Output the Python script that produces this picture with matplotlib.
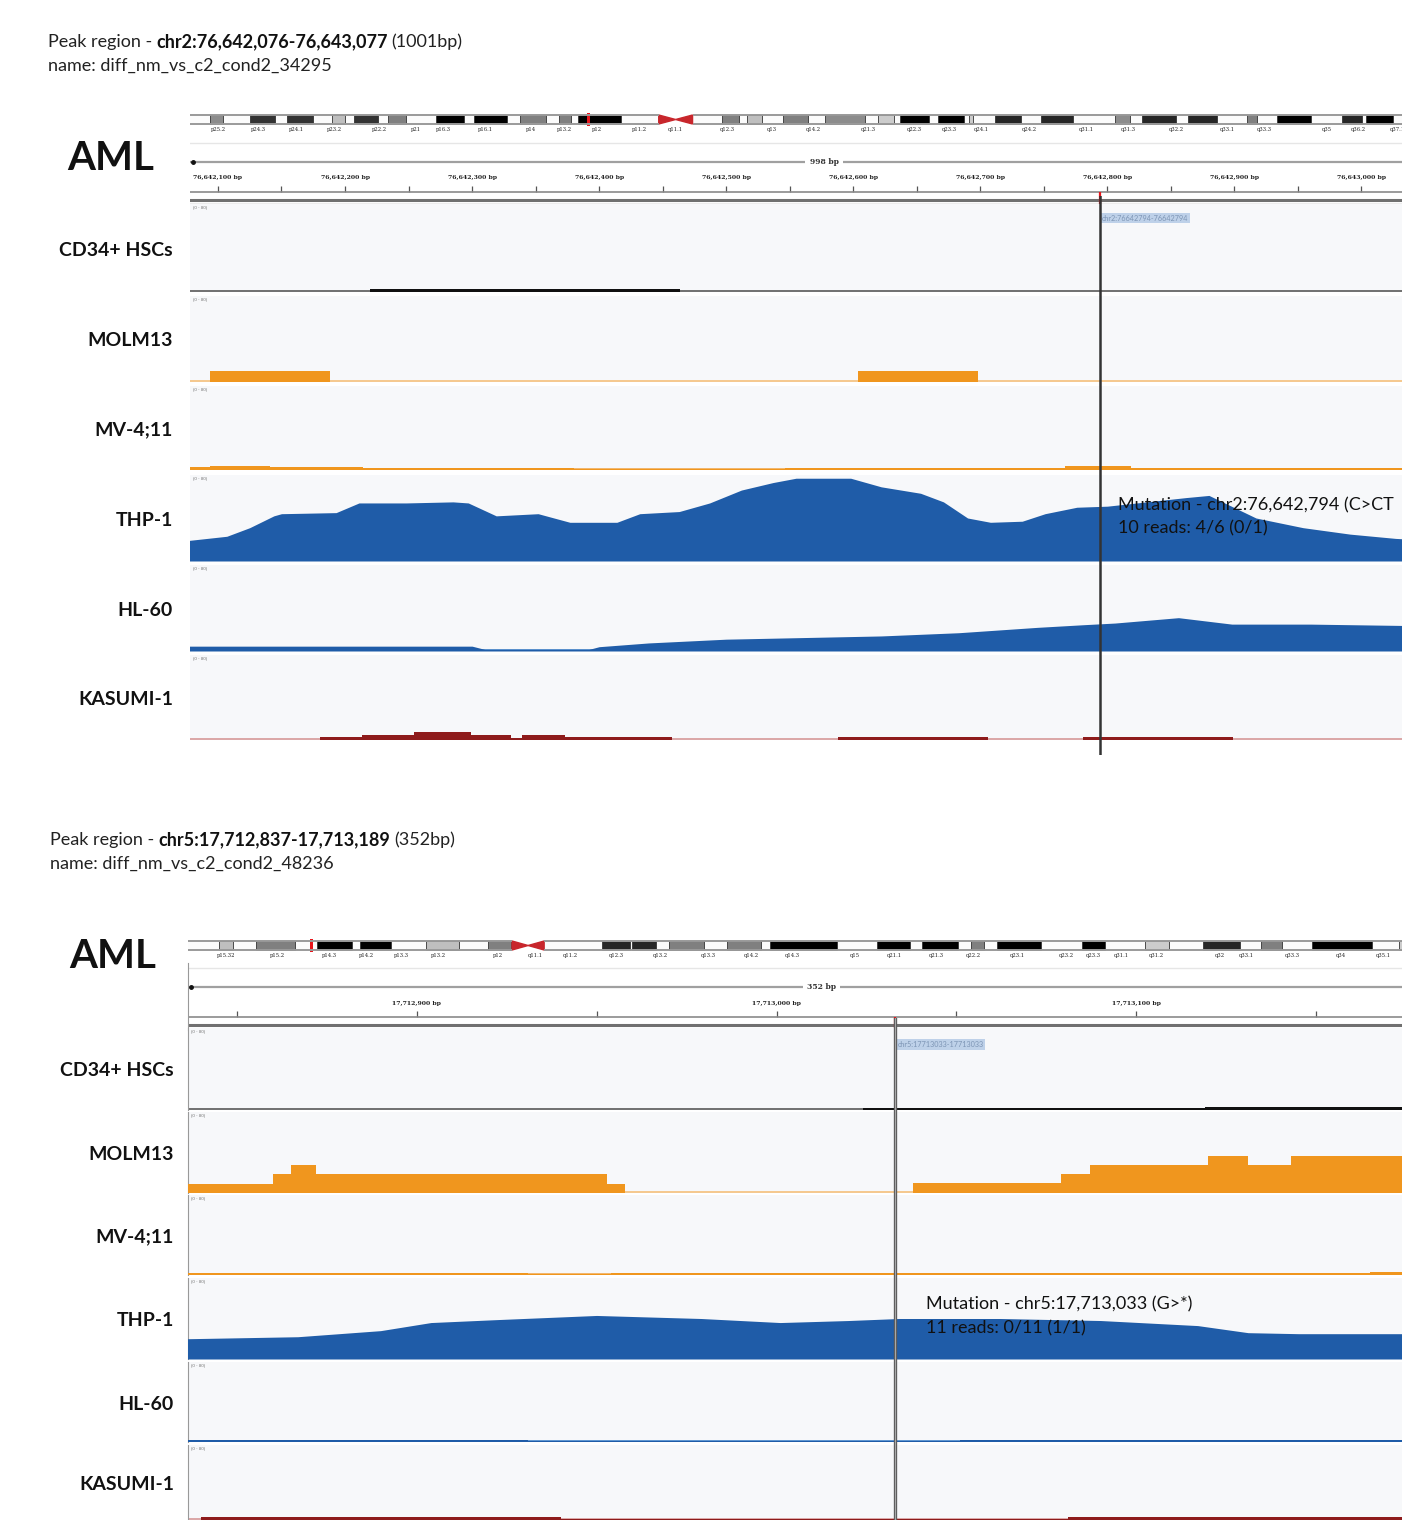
import matplotlib
matplotlib.use('Agg')
import matplotlib.pyplot as plt
from matplotlib.patches import Polygon

plt.rcParams['font.family'] = ['Lato', 'DejaVu Sans']

W, H = 1402, 1520

track_names = ['CD34+ HSCs', 'MOLM13', 'MV-4;11', 'THP-1', 'HL-60', 'KASUMI-1']

# ---------------- panel A : chr2 ----------------
region_a = (76642078, 76643076)
mut_a = 76642794
ruler_a_major = [76642100, 76642200, 76642300, 76642400, 76642500,
                 76642600, 76642700, 76642800, 76642900, 76643000]

chr2_len = 242.2
chr2_band_start = [3.8, 11.5, 18.6, 27.3, 31.5, 38.0, 47.2, 54.5, 63.5, 71.0, 74.5,
                   102.3, 107.1, 113.9, 122.1, 132.3, 136.5, 143.8, 149.8, 154.8,
                   163.6, 177.8, 183.0, 191.8, 203.1, 208.9, 221.4, 226.0]
chr2_band_end = [6.3, 16.3, 23.6, 29.8, 36.1, 41.5, 52.6, 60.9, 68.4, 73.3, 82.9,
                 105.6, 110.0, 118.7, 129.8, 135.4, 142.1, 148.8, 150.5, 159.7,
                 169.7, 180.7, 189.5, 197.4, 205.1, 215.4, 225.2, 231.2]
chr2_band_shade = [0.55, 0.2, 0.2, 0.75, 0.2, 0.5, 0.0, 0.0, 0.5, 0.5, 0.0,
                   0.5, 0.75, 0.5, 0.55, 0.8, 0.0, 0.0, 0.8, 0.15,
                   0.15, 0.55, 0.15, 0.15, 0.5, 0.0, 0.15, 0.0]
chr2_cen = (90.1, 96.6)
chr2_locus = 76.64
chr2_lab_pos = [5.4, 13.1, 20.5, 27.8, 36.5, 43.4, 48.8, 56.8, 65.5, 72.0, 78.3, 86.4,
                93.3, 103.3, 111.9, 119.8, 130.4, 139.2, 145.9, 152.1, 161.3, 172.2,
                180.3, 189.5, 199.3, 206.6, 218.5, 224.6, 232.1]
chr2_lab_txt = ['p25.2', 'p24.3', 'p24.1', 'p23.2', 'p22.2', 'p21', 'p16.3', 'p16.1',
                'p14', 'p13.2', 'p12', 'p11.2', 'q11.1', 'q12.3', 'q13', 'q14.2',
                'q21.3', 'q22.3', 'q23.3', 'q24.1', 'q24.2', 'q31.1', 'q31.3',
                'q32.2', 'q33.1', 'q33.3', 'q35', 'q36.2', 'q37.1']

cd34_a_start = [76642220]
cd34_a_end = [76642464]
cd34_a_val = [2.5]

molm13_a_start = [76642094, 76642604]
molm13_a_end = [76642188, 76642698]
molm13_a_val = [10, 10]

mv411_a_start = [76642076, 76642094, 76642141, 76642214, 76642380, 76642546, 76642767, 76642819]
mv411_a_end = [76642094, 76642141, 76642214, 76642380, 76642546, 76642767, 76642819, 76643077]
mv411_a_val = [3, 4, 3, 2, 1, 2, 3.5, 2]

thp1_a_pos = [76642076, 76642107, 76642125, 76642144, 76642150, 76642193, 76642211,
              76642248, 76642285, 76642297, 76642319, 76642352, 76642377, 76642414,
              76642432, 76642463, 76642487, 76642512, 76642537, 76642555, 76642598,
              76642622, 76642653, 76642671, 76642690, 76642708, 76642733, 76642751,
              76642776, 76642800, 76642831, 76642862, 76642880, 76642917, 76642954,
              76642991, 76643027, 76643077]
thp1_a_val = [19, 23, 31, 42, 44, 45, 54, 54, 55, 54, 42, 44, 36, 36, 44, 46, 54, 66,
              73, 77, 77, 69, 63, 55, 40, 36, 37, 44, 50, 51, 55, 59, 61, 40, 31, 25,
              21, 18]

hl60_a_pos = [76642076, 76642300, 76642310, 76642392, 76642400, 76642439, 76642500,
              76642622, 76642683, 76642745, 76642782, 76642806, 76642856, 76642898,
              76642960, 76643077]
hl60_a_val = [4.5, 4.5, 1.5, 1.5, 4, 7.5, 11, 14, 17, 22, 24.5, 26, 31, 25, 25, 23]

kas_a_start = [76642180, 76642213, 76642254, 76642299, 76642331, 76642339, 76642373,
               76642588, 76642781]
kas_a_end = [76642213, 76642254, 76642299, 76642331, 76642339, 76642373, 76642457,
             76642706, 76642899]
kas_a_val = [2.5, 5, 7.5, 5, 1.5, 5, 3, 3, 3]

# ---------------- panel B : chr5 ----------------
region_b = (17712836.5, 17713188.5)
mut_b = 17713033
ruler_b_major = [17712900, 17713000, 17713100]

chr5_len = 181.0
chr5_band_start = [4.5, 9.7, 18.5, 24.7, 34.1, 42.9, 59.3, 63.6, 68.9, 77.2, 83.3,
                   98.7, 105.1, 112.1, 115.8, 128.0, 137.0, 145.3, 153.7, 161.0, 173.4]
chr5_band_end = [6.4, 15.3, 23.5, 29.1, 38.8, 46.3, 63.3, 67.0, 73.9, 82.1, 92.9,
                 103.4, 110.3, 114.0, 122.2, 131.3, 140.5, 150.6, 156.7, 169.6, 176.0]
chr5_band_shade = [0.75, 0.5, 0.0, 0.0, 0.75, 0.5, 0.15, 0.15, 0.5, 0.5, 0.0,
                   0.0, 0.0, 0.5, 0.0, 0.0, 0.8, 0.15, 0.5, 0.0, 0.8]
chr5_cen = (46.4, 51.0)
chr5_locus = 17.71
chr5_lab_pos = [5.4, 12.8, 20.3, 25.5, 30.5, 35.9, 44.4, 49.8, 54.8, 61.4, 67.6, 74.5,
                80.6, 86.5, 95.5, 101.1, 107.2, 112.5, 118.8, 125.7, 129.6, 133.6,
                138.6, 147.8, 151.5, 158.1, 165.1, 171.1]
chr5_lab_txt = ['p15.32', 'p15.2', 'p14.3', 'p14.2', 'p13.3', 'p13.2', 'p12', 'q11.1',
                'q11.2', 'q12.3', 'q13.2', 'q13.3', 'q14.2', 'q14.3', 'q15', 'q21.1',
                'q21.3', 'q22.2', 'q23.1', 'q23.2', 'q23.3', 'q31.1', 'q31.2', 'q32',
                'q33.1', 'q33.3', 'q34', 'q35.1']

cd34_b_start = [17713024, 17713119]
cd34_b_end = [17713119, 17713190]
cd34_b_val = [1.5, 2.5]

molm13_b_start = [17712836, 17712860, 17712865, 17712872, 17712953, 17713038, 17713079,
                  17713087, 17713120, 17713131, 17713143]
molm13_b_end = [17712860, 17712865, 17712872, 17712953, 17712958, 17713079, 17713087,
                17713120, 17713131, 17713143, 17713190]
molm13_b_val = [9, 19, 28, 19, 9, 10, 19, 28, 37, 28, 37]

mv411_b_start = [17712836, 17712931, 17712954, 17713165]
mv411_b_end = [17712931, 17712954, 17713165, 17713190]
mv411_b_val = [2.5, 1.2, 2.5, 3.5]

thp1_b_pos = [17712836, 17712867, 17712890, 17712904, 17712923, 17712950, 17712979,
              17713001, 17713020, 17713034, 17713062, 17713090, 17713117, 17713131,
              17713145, 17713174, 17713190]
thp1_b_val = [20, 22, 28, 36, 39, 43, 40, 36, 38, 40, 40, 38, 33, 26, 25, 25, 25]

hl60_b_start = [17712836, 17712931, 17713051]
hl60_b_end = [17712931, 17713051, 17713190]
hl60_b_val = [2, 1, 2]

kas_b_start = [17712840, 17712940, 17713081]
kas_b_end = [17712940, 17713081, 17713190]
kas_b_val = [3, 1, 3]

BLUE = '#1f5ca8'
ORANGE = '#f0961e'
RED = '#8e1b1b'

fig = plt.figure(figsize=(W / 100, H / 100), dpi=100)
bg = fig.add_axes([0, 0, 1, 1])
bg.set_xlim(0, W)
bg.set_ylim(H, 0)
bg.set_axis_off()


def px_axes(x0, top, w, h):
    ax = fig.add_axes([x0 / W, 1 - (top + h) / H, w / W, h / H])
    ax.set_xticks([])
    ax.set_yticks([])
    for s in ax.spines.values():
        s.set_visible(False)
    ax.patch.set_alpha(0)
    return ax


def header(x, y, region_txt, size_txt, name_txt):
    fs = 13
    t = bg.text(x, y, 'Peak region -', fontsize=fs, color='#222', va='center')
    t2 = bg.annotate(region_txt, xy=(1, 0), xycoords=t, xytext=(4, 0),
                     textcoords='offset pixels', va='bottom', fontsize=fs,
                     fontweight='bold', color='#111')
    bg.annotate(size_txt, xy=(1, 0), xycoords=t2, xytext=(4, 0),
                textcoords='offset pixels', va='bottom', fontsize=fs, color='#222')
    bg.text(x, y + 24, name_txt, fontsize=fs, color='#222', va='center')


def ideogram(x0, top, w, length, bs, be, shade, cen, locus, lpos, ltxt):
    ax = px_axes(x0, top, w, 30)
    ax.set_xlim(0, length)
    ax.set_ylim(30, 0)
    for a, b in [(0, cen[0]), (cen[1], length)]:
        ax.fill_between([a, b], 7, 16, color='#fbfbfb', lw=0)
        ax.hlines([7, 16], a, b, color='#9a9a9a', lw=1.4)
    ax.bar(bs, 9, width=[e - s for s, e in zip(bs, be)], bottom=7, align='edge',
           color=[str(v) for v in shade], edgecolor='#333', lw=0.6)
    mid = (cen[0] + cen[1]) / 2
    ax.add_patch(Polygon([(cen[0], 7), (cen[0], 16), (mid, 11.5)], color='#c8262c'))
    ax.add_patch(Polygon([(cen[1], 7), (cen[1], 16), (mid, 11.5)], color='#c8262c'))
    ax.bar(locus, 13, width=length * 0.0022, bottom=5, color='#e8151b')
    for p, t in zip(lpos, ltxt):
        ax.text(p, 22, t, fontsize=3.8, ha='center', va='center', color='#222',
                family='DejaVu Serif')


def ruler(x0, top, w, region, major, span_txt, mut, left_border):
    ax = px_axes(x0, top, w, 67)
    ax.set_xlim(*region)
    ax.set_ylim(67, 0)
    ax.axhline(5, color='#e6e6e6', lw=1)
    ax.axhline(24, color='#a0a0a0', lw=1.6)
    ax.plot([region[0] + (region[1] - region[0]) * 0.002], [24], 'o', color='#111', ms=2.5)
    ax.text((region[0] + region[1]) / 2, 24, span_txt, fontsize=5.5, ha='center', va='center',
            family='DejaVu Serif', fontweight='bold', color='#333',
            bbox=dict(facecolor='white', edgecolor='none', pad=3))
    for m in major:
        ax.text(m, 40, '{:,} bp'.format(m), fontsize=4.4, ha='center', va='center',
                family='DejaVu Serif', fontweight='bold', color='#222')
    step = major[1] - major[0]
    ticks = [m + k * step / 2 for m in [major[0] - step] + major for k in (0, 1)]
    ticks = [t for t in ticks if region[0] <= t <= region[1]]
    ax.vlines(ticks, 48, 54, color='#555', lw=0.9)
    ax.axhline(54, color='#8a8a8a', lw=1.2)
    ax.axhline(62, color='#707070', lw=2.2)
    ax.axhline(65.5, color='#a0a0a0', lw=1.0)
    ax.vlines(mut, 54, 67, color='#e8151b', lw=1.6)
    if left_border:
        ax.spines['left'].set_visible(True)
        ax.spines['left'].set_color('#999')


def track(x0, top, bottom, w, region, base_color, left_border):
    ax = px_axes(x0, top, w, bottom - top)
    ax.patch.set_alpha(1)
    ax.set_facecolor('#f7f8fa')
    ax.set_xlim(*region)
    ax.set_ylim(0, 80)
    ax.text(0.002, 0.985, '[0 - 80]', transform=ax.transAxes, fontsize=3.2,
            color='#777', va='top', ha='left')
    ax.axhline(0.6, color=base_color, lw=1.4, zorder=1)
    if left_border:
        ax.spines['left'].set_visible(True)
        ax.spines['left'].set_color('#999')
    return ax


def bars(ax, start, end, val, color):
    ax.bar(start, val, width=[e - s for s, e in zip(start, end)], align='edge',
           color=color, lw=0, zorder=3)


def panel(x0, w, rows, region, mut, data, label_x, aml_xy, over, line_style, box_y,
          box_txt, mut_y, mut_txt, mut_dx, left_border):
    axes = []
    base_cols = ['#707070', '#f5c88e', '#f2b66a', '#5d95d0', '#5d95d0', '#dba6a6']
    for (top, bottom), bc in zip(rows, base_cols):
        axes.append(track(x0, top, bottom, w, region, bc, left_border))
    cd, mo, mv, th, hl, ka = data
    bars(axes[0], *cd, '#111')
    bars(axes[1], *mo, ORANGE)
    bars(axes[2], *mv, ORANGE)
    axes[3].fill_between(th[0], th[1], 0, color=BLUE, lw=0, zorder=3)
    if len(hl) == 2:
        axes[4].fill_between(hl[0], hl[1], 0, color=BLUE, lw=0, zorder=3)
    else:
        bars(axes[4], *hl, BLUE)
    bars(axes[5], *ka, RED)

    for (top, bottom), name in zip(rows, track_names):
        bg.text(label_x, (top + bottom) / 2 + 2, name, fontsize=14, fontweight='bold',
                ha='right', va='center', color='#111')
    bg.text(aml_xy[0], aml_xy[1], 'AML', fontsize=29, fontweight='bold',
            ha='center', va='center', color='#111')

    ov = px_axes(x0, over[0], w, over[1] - over[0])
    ov.set_xlim(*region)
    ov.set_ylim(0, 1)
    if line_style == 'single':
        ov.axvline(mut, color='#333333', lw=1.8)
    else:
        ov.axvline(mut, color='#5a5a5a', lw=2.4)
        ov.axvline(mut, color='#a8a8a8', lw=0.8)

    axes[0].text(mut + 2 * (region[1] - region[0]) / w, box_y, box_txt, fontsize=5.2,
                 color='#7d95b5', va='center', ha='left', zorder=5,
                 bbox=dict(facecolor='#bed1e9', edgecolor='none', pad=1.2))
    for yv, t in zip(mut_y, mut_txt):
        axes[3].annotate(t, xy=(mut, yv), xytext=(mut_dx, 0), textcoords='offset pixels',
                         fontsize=13, color='#111', va='center', ha='left', zorder=6)


# ---- panel A ----
header(48, 42, 'chr2:76,642,076-76,643,077', '(1001bp)', 'name: diff_nm_vs_c2_cond2_34295')
ideogram(190, 108, 1260, chr2_len, chr2_band_start, chr2_band_end, chr2_band_shade,
         chr2_cen, chr2_locus, chr2_lab_pos, chr2_lab_txt)
ruler(190, 138, 1268, region_a, ruler_a_major, '998 bp', mut_a, False)
rows_a = [(204, 292), (296, 382), (386, 470), (475, 561), (565, 651), (655, 740)]
panel(190, 1268, rows_a, region_a, mut_a,
      [(cd34_a_start, cd34_a_end, cd34_a_val),
       (molm13_a_start, molm13_a_end, molm13_a_val),
       (mv411_a_start, mv411_a_end, mv411_a_val),
       (thp1_a_pos, thp1_a_val),
       (hl60_a_pos, hl60_a_val),
       (kas_a_start, kas_a_end, kas_a_val)],
      173, (111, 158), (196, 755), 'single', 67, 'chr2:76642794-76642794',
      [52, 30], ['Mutation - chr2:76,642,794 (C>CT', '10 reads: 4/6 (0/1)'], 18, False)

# ---- panel B ----
header(50, 840, 'chr5:17,712,837-17,713,189', '(352bp)', 'name: diff_nm_vs_c2_cond2_48236')
ideogram(188, 934, 1264, chr5_len, chr5_band_start, chr5_band_end, chr5_band_shade,
         chr5_cen, chr5_locus, chr5_lab_pos, chr5_lab_txt)
ruler(188, 963, 1267, region_b, ruler_b_major, '352 bp', mut_b, True)
rows_b = [(1028, 1110), (1112, 1193), (1195, 1275), (1278, 1359), (1362, 1442), (1445, 1520)]
panel(188, 1267, rows_b, region_b, mut_b,
      [(cd34_b_start, cd34_b_end, cd34_b_val),
       (molm13_b_start, molm13_b_end, molm13_b_val),
       (mv411_b_start, mv411_b_end, mv411_b_val),
       (thp1_b_pos, thp1_b_val),
       (hl60_b_start, hl60_b_end, hl60_b_val),
       (kas_b_start, kas_b_end, kas_b_val)],
      174, (113, 957), (1018, 1520), 'double', 64, 'chr5:17713033-17713033',
      [54, 30], ['Mutation - chr5:17,713,033 (G>*)', '11 reads: 0/11 (1/1)'], 31, True)

fig.savefig('out.png', dpi=100)
